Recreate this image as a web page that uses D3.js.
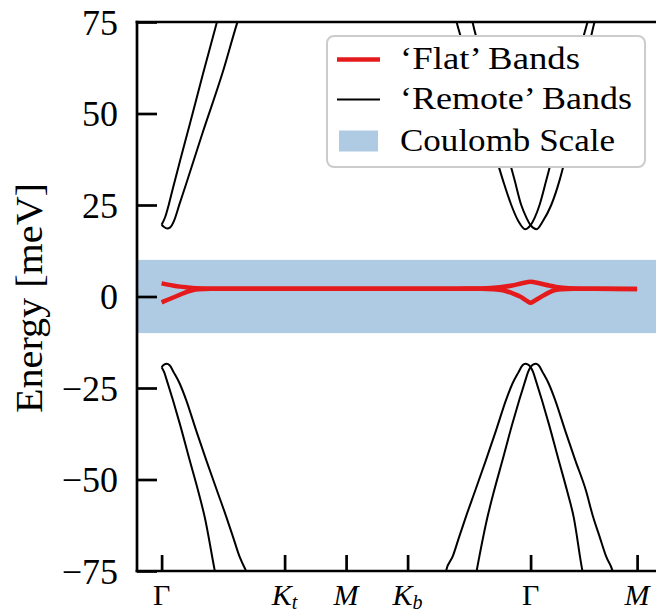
<!DOCTYPE html>
<html>
<head>
<meta charset="utf-8">
<script src="https://cdn.jsdelivr.net/npm/d3@7"></script>
<style>
  body { margin: 0; background: #fff; }
  svg { display: block; }
</style>
</head>
<body>
<svg id="chart" width="656" height="614"></svg>
<script>
// High-symmetry path Γ → K_t → M → K_b → Γ → M, in units of |Γ–K|
const kTicks = [0, 1, 1.5, 2, 3, 3.866];
const kLabels = [["Γ", ""], ["K", "t"], ["M", ""], ["K", "b"], ["Γ", ""], ["M", ""]];
const kItalic = [false, true, true, true, false, true];
const energyTicks = [-75, -50, -25, 0, 25, 50, 75];
const coulombScale = [-10, 10];   // meV
const legendLabels = ["‘Flat’ Bands", "‘Remote’ Bands", "Coulomb Scale"];

// 'Flat' bands [k, E (meV)]
const flatUpper = [
  [0, 3.6], [0.05, 3.25], [0.1, 2.95], [0.15, 2.7], [0.2, 2.5], [0.28, 2.25], [0.4, 2.15],
  [0.7, 2.15], [1, 2.15], [1.5, 2.15], [2, 2.15], [2.4, 2.15], [2.6, 2.2],
  [2.75, 2.5], [2.85, 3.0], [2.93, 3.6], [3.0, 4.0], [3.07, 3.6], [3.15, 3.0],
  [3.24, 2.45], [3.35, 2.2], [3.5, 2.1], [3.866, 2.05]
];
const flatLower = [
  [0, -1.6], [0.05, -0.9], [0.1, -0.2], [0.15, 0.5], [0.2, 1.2], [0.25, 1.7], [0.3, 1.95], [0.4, 2.1],
  [0.7, 2.1], [1, 2.1], [1.5, 2.1], [2, 2.1], [2.4, 2.1], [2.6, 2.1],
  [2.7, 2.0], [2.775, 1.7], [2.85, 0.9], [2.92, -0.1], [2.97, -1.2], [3.0, -1.7],
  [3.03, -1.2], [3.08, -0.2], [3.155, 1.2], [3.2, 1.75], [3.25, 2.0], [3.35, 2.1], [3.5, 2.1], [3.866, 2.05]
];

// 'Remote' bands around the first Γ point
const remoteUpperA1 = [
  [0, 19.6], [0.03, 21.8], [0.06, 25.3], [0.092, 29.6], [0.15, 37.1],
  [0.228, 46.9], [0.336, 60.8], [0.45, 75], [0.48, 78.8]
];
const remoteUpperB1 = [
  [0, 19.6], [0.02, 19.0], [0.045, 18.6], [0.07, 18.9], [0.1, 20.6], [0.146, 25.3],
  [0.2, 30.8], [0.336, 45], [0.498, 61.4], [0.612, 74.5], [0.64, 77.5]
];
const remoteLowerA1 = [
  [0, -19.3], [0.02, -20.6], [0.045, -23.2], [0.092, -28.3], [0.15, -35], [0.228, -44.7],
  [0.3, -53.5], [0.35, -60.2], [0.431, -74.7], [0.45, -78]
];
const remoteLowerB1 = [
  [0, -19.3], [0.02, -18.6], [0.043, -18.4], [0.065, -18.8], [0.1, -20.8], [0.146, -23.7],
  [0.2, -28.3], [0.28, -36.5], [0.363, -44.7], [0.45, -53], [0.526, -60.2], [0.58, -65.6],
  [0.634, -71.1], [0.683, -74.7], [0.72, -77]
];

// 'Remote' bands around the second Γ point
const remoteUpperA2 = [
  [2.382, 77], [2.398, 75], [2.512, 62], [2.634, 48], [2.775, 31.8], [2.843, 25], [2.902, 20.5],
  [2.955, 18.4], [3.0, 19.5], [3.033, 21.5], [3.073, 25], [3.128, 31.8], [3.228, 45],
  [3.341, 60], [3.463, 75], [3.488, 78]
];
const remoteUpperB2 = [
  [2.512, 77.5], [2.528, 75], [2.642, 61], [2.756, 46], [2.87, 31.8], [2.924, 25], [2.967, 21.5],
  [3.0, 19.5], [3.049, 18.4], [3.098, 20.5], [3.168, 25], [3.236, 31.8], [3.325, 44],
  [3.423, 60], [3.52, 75], [3.545, 78]
];
const remoteLowerA2 = [
  [2.301, -77], [2.315, -74.7], [2.366, -71.1], [2.42, -65.6], [2.474, -60.2], [2.55, -53],
  [2.637, -44.7], [2.72, -36.5], [2.8, -28.3], [2.854, -23.7], [2.9, -20.8], [2.935, -18.8],
  [2.957, -18.4], [2.98, -18.6], [3.0, -19.3], [3.02, -20.6], [3.045, -23.2], [3.092, -28.3],
  [3.15, -35], [3.228, -44.7], [3.3, -53.5], [3.35, -60.2], [3.42, -74.7], [3.44, -78]
];
const remoteLowerB2 = [
  [2.545, -78], [2.563, -74.7], [2.65, -60.2], [2.7, -53.5], [2.772, -44.7], [2.85, -35],
  [2.908, -28.3], [2.955, -23.2], [2.98, -20.6], [3.0, -19.3], [3.02, -18.6], [3.043, -18.4],
  [3.065, -18.8], [3.1, -20.8], [3.146, -23.7], [3.2, -28.3], [3.28, -36.5], [3.363, -44.7],
  [3.45, -53], [3.508, -60.2], [3.561, -65.6], [3.615, -71.1], [3.664, -74.7], [3.683, -77]
];

const flatBands = [flatUpper, flatLower];
const remoteBands = [remoteUpperA1, remoteUpperB1, remoteLowerA1, remoteLowerB1,
                     remoteUpperA2, remoteUpperB2, remoteLowerA2, remoteLowerB2];

// ---- layout ----
const FONT = "'Liberation Serif', 'Times New Roman', serif";
const plotL = 137, plotT = 22, plotB = 571, plotR = 661.7;
const RED = "#e41a1c", BLUE = "#377eb8";

const svg = d3.select("#chart");
const x = d3.scaleLinear().domain([-0.2, 4.066]).range([plotL, plotR]);
const y = d3.scaleLinear().domain([-75, 75]).range([plotB, plotT]);

svg.append("clipPath").attr("id", "plotArea")
  .append("rect").attr("x", plotL).attr("y", plotT)
  .attr("width", plotR - plotL).attr("height", plotB - plotT);

const plot = svg.append("g").attr("clip-path", "url(#plotArea)");

// Coulomb energy window
plot.append("rect")
  .attr("x", plotL).attr("width", plotR - plotL)
  .attr("y", y(coulombScale[1]))
  .attr("height", y(coulombScale[0]) - y(coulombScale[1]))
  .attr("fill", BLUE).attr("fill-opacity", 0.4);

const line = d3.line()
  .x(d => x(d[0])).y(d => y(d[1]))
  .curve(d3.curveMonotoneX);

plot.selectAll("path.remote").data(remoteBands).join("path")
  .attr("class", "remote")
  .attr("d", line)
  .attr("fill", "none").attr("stroke", "#000").attr("stroke-width", 2);

plot.selectAll("path.flat").data(flatBands).join("path")
  .attr("class", "flat")
  .attr("d", line)
  .attr("fill", "none").attr("stroke", RED).attr("stroke-width", 4.5)
  .attr("stroke-linejoin", "round");

// ---- axes (inward ticks) ----
const yAxis = d3.axisLeft(y)
  .tickValues(energyTicks)
  .tickSizeInner(-20).tickSizeOuter(0).tickPadding(19)
  .tickFormat(d => d < 0 ? "\u2212" + Math.abs(d) : String(d));
const gy = svg.append("g").attr("transform", `translate(${plotL},0)`).call(yAxis);
gy.select(".domain").remove();
gy.selectAll(".tick line").attr("stroke", "#000").attr("stroke-width", 2.7);
gy.selectAll(".tick text")
  .attr("font-family", FONT).attr("font-size", 36).attr("fill", "#000")
  .attr("dy", "0.34em");

const xAxis = d3.axisBottom(x)
  .tickValues(kTicks)
  .tickSizeInner(-16).tickSizeOuter(0).tickFormat("");
const gx = svg.append("g").attr("transform", `translate(0,${plotB})`).call(xAxis);
gx.select(".domain").remove();
gx.selectAll(".tick line").attr("stroke", "#000").attr("stroke-width", 2.7);

// symmetry-point labels
const xl = svg.append("g");
kTicks.forEach((k, i) => {
  const t = xl.append("text")
    .attr("x", x(k)).attr("y", 605)
    .attr("text-anchor", "middle")
    .attr("font-family", FONT).attr("font-size", 30).attr("fill", "#000");
  t.append("tspan").attr("font-style", kItalic[i] ? "italic" : "normal").text(kLabels[i][0]);
  if (kLabels[i][1]) {
    t.append("tspan").attr("font-style", "italic").attr("font-size", 20)
      .attr("dy", 4).text(kLabels[i][1]);
  }
});

// spines
const spines = svg.append("g").attr("stroke", "#000").attr("stroke-width", 2.7)
  .attr("stroke-linecap", "square");
spines.append("line").attr("x1", plotL).attr("x2", plotL).attr("y1", plotT).attr("y2", plotB);
spines.append("line").attr("x1", plotR).attr("x2", plotR).attr("y1", plotT).attr("y2", plotB);
spines.append("line").attr("x1", plotL).attr("x2", plotR).attr("y1", plotT).attr("y2", plotT);
spines.append("line").attr("x1", plotL).attr("x2", plotR).attr("y1", plotB).attr("y2", plotB);

// axis title
svg.append("text")
  .attr("transform", "translate(42,298) rotate(-90)")
  .attr("text-anchor", "middle")
  .attr("font-family", FONT).attr("font-size", 37).attr("fill", "#000")
  .attr("textLength", 230).attr("lengthAdjust", "spacingAndGlyphs")
  .text("Energy [meV]");

// ---- legend ----
const lg = svg.append("g");
lg.append("rect")
  .attr("x", 327).attr("y", 36).attr("width", 318).attr("height", 131).attr("rx", 7)
  .attr("fill", "#fff").attr("stroke", "#cccccc").attr("stroke-width", 2);

const rowY = [59.5, 99.5, 141];
const textLen = [180, 232, 215];
lg.append("line").attr("x1", 337).attr("x2", 380).attr("y1", rowY[0]).attr("y2", rowY[0])
  .attr("stroke", RED).attr("stroke-width", 4.5);
lg.append("line").attr("x1", 337).attr("x2", 380).attr("y1", rowY[1]).attr("y2", rowY[1])
  .attr("stroke", "#000").attr("stroke-width", 2);
lg.append("rect").attr("x", 339).attr("y", rowY[2] - 10.5).attr("width", 39).attr("height", 21)
  .attr("fill", BLUE).attr("fill-opacity", 0.4);

legendLabels.forEach((label, i) => {
  lg.append("text")
    .attr("x", 400).attr("y", rowY[i] + 9.5)
    .attr("font-family", FONT).attr("font-size", 31).attr("fill", "#000")
    .attr("textLength", textLen[i]).attr("lengthAdjust", "spacingAndGlyphs")
    .text(label);
});
</script>
</body>
</html>
